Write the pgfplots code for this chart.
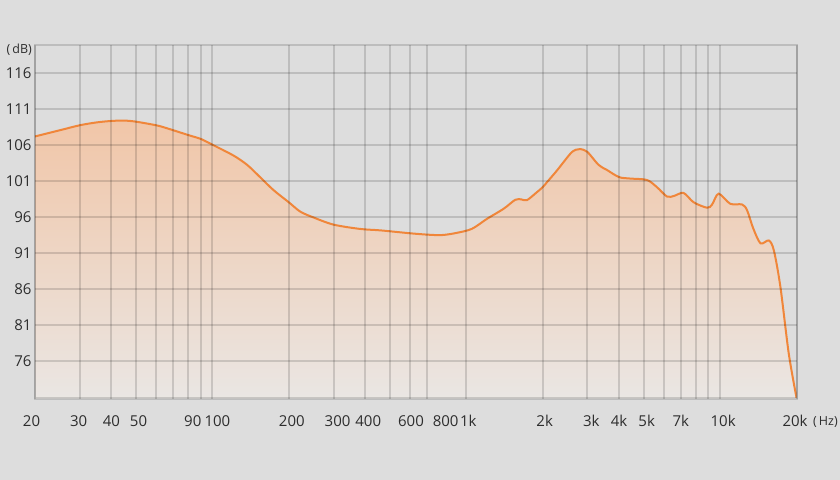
\documentclass[border=0pt]{standalone}
\usepackage{pgfplots}
\pgfplotsset{compat=1.18}
\usepackage{pgfplotstable}
\usepackage{fontspec}
\setmainfont{Open Sans}
\definecolor{bg}{RGB}{221,221,221}
\definecolor{linec}{RGB}{240,134,58}
\definecolor{filltop}{RGB}{241,198,168}
\definecolor{fillbot}{RGB}{234,230,227}
\definecolor{txt}{RGB}{45,45,45}
\newcommand{\sh}[2]{\makebox[0pt]{\hspace*{#1}#2}}
\pgfplotstableread{
f db
20 107.25
25 108.1
30 108.8
35 109.2
40 109.4
45 109.45
50 109.3
60 108.8
66 108.4
81 107.4
90 106.9
100 106.1
121 104.6
137 103.3
154 101.6
174 99.8
200 98.1
222 96.8
250 96.0
300 95.0
382 94.4
460 94.2
600 93.8
710 93.6
800 93.55
900 93.8
1050 94.4
1206 95.8
1403 97.2
1560 98.45
1650 98.5
1734 98.4
1897 99.5
2000 100.2
2080 100.9
2274 102.5
2570 104.85
2700 105.4
2813 105.5
3000 105.1
3320 103.3
3580 102.6
4000 101.6
4430 101.4
5150 101.2
5640 100.2
6180 98.9
6600 99.0
7180 99.4
7870 98.1
8890 97.35
9300 97.8
9870 99.3
10960 97.9
12200 97.8
12770 97.0
13500 94.5
14430 92.4
15560 92.8
16290 91.4
17290 86.3
18640 77.1
20000 70.95
}\fr
\begin{document}
\begin{tikzpicture}
\fill[bg] (0,0) rectangle (840bp,480bp);
\useasboundingbox (0,0) rectangle (840bp,480bp);
\begin{axis}[
  axis on top,
  at={(35bp,81.5bp)}, anchor=south west,
  scale only axis, width=761.5bp, height=353.5bp,
  xmode=log, xmin=20, xmax=20000, ymin=70.85, ymax=119.95,
  xtick={20,30,40,50,90,100,200,300,400,600,1000,2000,3000,4000,5000,7000,10000,20000},
  xticklabels={{\sh{-7bp}{20}},{\sh{-2bp}{30}},{40},{\sh{5bp}{50}},{\sh{-16bp}{90}},{\sh{10bp}{100}},{\sh{6bp}{200}},{\sh{8bp}{300}},{\sh{6bp}{400}},{\sh{2bp}{600}},{\sh{4bp}{1k}},{\sh{4bp}{2k}},{\sh{8bp}{3k}},{4k},{\sh{6bp}{5k}},{7k},{\sh{6bp}{10k}},{\sh{-3bp}{20k}}},
  minor xtick={60,70,80,500,700,6000,8000,9000},
  extra x ticks={800},
  extra x tick labels={{\sh{8bp}{800}}},
  extra x tick style={grid=none},
  ytick={76,81,86,91,96,101,106,111,116},
  yticklabels={76,81,86,91,96,101,106,111,116},
  xmajorgrids, xminorgrids, ymajorgrids,
  grid style={draw=black, draw opacity=0.14, line width=2bp},
  minor grid style={draw=black, draw opacity=0.14, line width=2bp},
  axis line style={draw=black, draw opacity=0.14, line width=2bp},
  major tick length=0pt, minor tick length=0pt,
  tick style={draw=none},
  xticklabel style={font=\fontsize{15bp}{18bp}\selectfont, text=txt, inner sep=0pt, yshift=-16.5bp},
  yticklabel style={font=\fontsize{15bp}{18bp}\selectfont, text=txt, inner sep=0pt, xshift=-3.3bp},
  clip mode=individual,
]
\addplot[draw=none, top color=filltop, bottom color=fillbot, smooth, tension=0.5]
  table[x=f, y=db] {\fr} -- (axis cs:20000,70.85) -- (axis cs:20,70.85) -- cycle;
\addplot[draw=linec, line width=2bp, smooth, tension=0.5] table[x=f, y=db] {\fr};
\node[anchor=east, font=\fontsize{12.5bp}{14bp}\selectfont, text=txt, inner sep=0pt] at (rel axis cs:0,1) [xshift=-3bp, yshift=-5bp] {(\,dB)};
\node[anchor=west, font=\fontsize{12.5bp}{14bp}\selectfont, text=txt, inner sep=0pt] at (rel axis cs:1,0) [xshift=16.5bp, yshift=-24bp] {(\,Hz)};
\end{axis}
\end{tikzpicture}
\end{document}
